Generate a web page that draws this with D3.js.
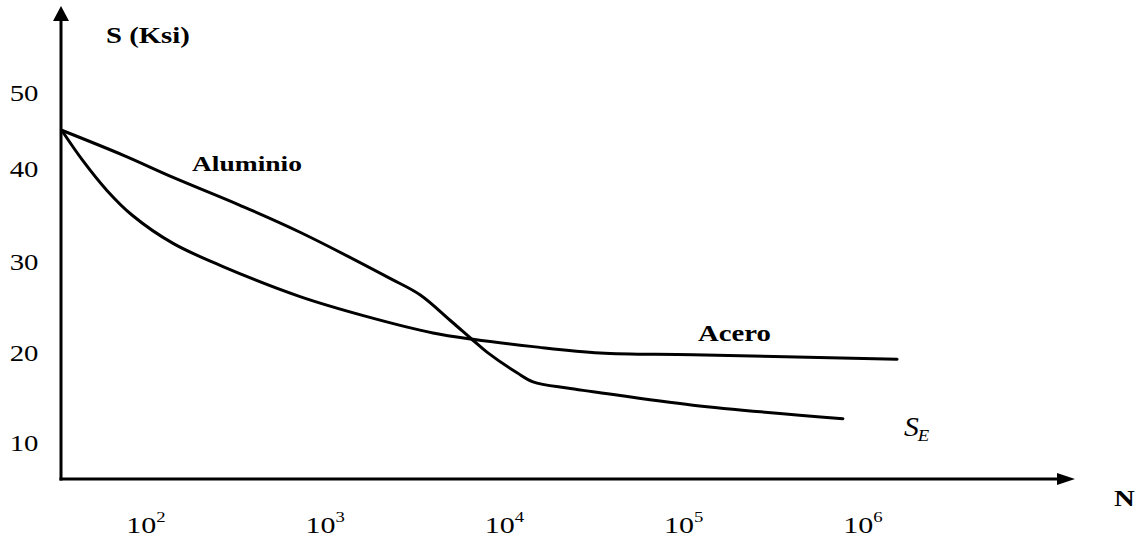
<!DOCTYPE html>
<html>
<head>
<meta charset="utf-8">
<script src="https://cdn.jsdelivr.net/npm/d3@7"></script>
<style>
  html, body { margin: 0; padding: 0; background: #fff; }
  svg { display: block; }
  text { font-family: "Liberation Serif", "DejaVu Serif", serif; fill: #000; }
</style>
</head>
<body>
<script>
// S-N (fatigue) curves: stress amplitude S (ksi) against number of cycles N
const aluminioN = [33, 73, 138, 326, 705, 2239, 3289, 4842, 6501, 7780, 11455, 14060, 21780, 30410, 109650, 753000];
const aluminioS = [45.1, 41.8, 39.1, 36.1, 33.2, 28.2, 26.4, 23.6, 21.4, 20.1, 17.8, 16.8, 16.1, 15.7, 14.2, 12.7];

const aceroN = [33, 43, 59, 82, 138, 262, 705, 1667, 3890, 6501, 14060, 33270, 109650, 1510000];
const aceroS = [45.1, 41.2, 37.7, 35.0, 32.0, 29.5, 26.2, 24.0, 22.2, 21.5, 20.7, 20.0, 19.8, 19.3];

const yTicks = [10, 20, 30, 40, 50];
const xTickExponents = [2, 3, 4, 5, 6];

const W = 1148, H = 539;
const svg = d3.select("body").append("svg").attr("width", W).attr("height", H);

// Axes origin and scales
const x0 = 61, yBase = 479;
const x = d3.scaleLog().domain([1e2, 1e6]).range([148, 865]);
const y = d3.scaleLinear().domain([10, 20, 30, 40, 50]).range([443, 353, 262, 169, 93]);

const SX = 1.25; // lettering is set slightly wide

function label(g, px, py, str, opts = {}) {
  const t = g.append("g").attr("transform", `translate(${px},${py}) scale(${SX},1)`)
    .append("text")
    .attr("text-anchor", opts.anchor || "start")
    .attr("font-size", opts.size || 23)
    .attr("font-weight", opts.weight || "normal")
    .attr("font-style", opts.style || "normal");
  return t.text(str);
}

// Axes with arrowheads
const axes = svg.append("g");
axes.append("line").attr("x1", x0).attr("y1", yBase + 1.5).attr("x2", x0).attr("y2", 18)
  .attr("stroke", "#000").attr("stroke-width", 3);
axes.append("line").attr("x1", x0 - 1.5).attr("y1", yBase).attr("x2", 1060).attr("y2", yBase)
  .attr("stroke", "#000").attr("stroke-width", 3);
axes.append("path").attr("d", `M${x0},6 L${x0 - 8},21 L${x0 + 8},21 Z`).attr("fill", "#000");
axes.append("path").attr("d", `M1075,${yBase} L1057,${yBase - 6} L1057,${yBase + 6} Z`).attr("fill", "#000");

// Y tick labels
const yl = svg.append("g");
yTicks.forEach(v => label(yl, 24, y(v) + 8, String(v), { anchor: "middle", size: 23 }));

// X tick labels: powers of ten
const xl = svg.append("g");
xTickExponents.forEach(e => {
  const g = xl.append("g").attr("transform", `translate(${x(Math.pow(10, e)) - 2},533) scale(${SX},1)`);
  const t = g.append("text").attr("text-anchor", "middle").attr("font-size", 24);
  t.append("tspan").text("10");
  t.append("tspan").attr("font-size", 15).attr("dy", -11).text(String(e));
});

// Axis titles
label(svg, 106, 43, "S (Ksi)", { size: 23, weight: "bold" });
label(svg, 1114, 506, "N", { size: 23, weight: "bold" });

// Curves
const line = d3.line().x(d => x(d[0])).y(d => y(d[1])).curve(d3.curveCatmullRom.alpha(0.5));
const curves = svg.append("g").attr("fill", "none").attr("stroke", "#000")
  .attr("stroke-width", 3).attr("stroke-linecap", "round").attr("stroke-linejoin", "round");
curves.append("path").attr("d", line(aluminioN.map((n, i) => [n, aluminioS[i]])));
curves.append("path").attr("d", line(aceroN.map((n, i) => [n, aceroS[i]])));

// Curve labels
label(svg, 192, 171, "Aluminio", { size: 22, weight: "bold" });
label(svg, 698, 341, "Acero", { size: 23, weight: "bold" });
const se = svg.append("g").attr("transform", `translate(904,436) scale(1.1,1)`)
  .append("text").attr("font-size", 27).attr("font-style", "italic");
se.append("tspan").text("S");
se.append("tspan").attr("font-size", 17).attr("dy", 5).attr("dx", -1).text("E");
</script>
</body>
</html>
